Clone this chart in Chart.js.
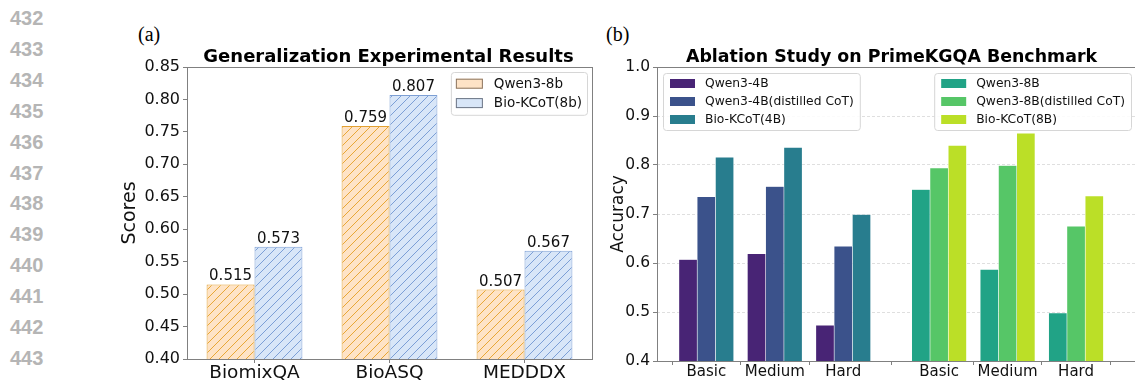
<!DOCTYPE html>
<html>
<head>
<meta charset="utf-8">
<script src="https://cdn.jsdelivr.net/npm/chart.js@4.4.1/dist/chart.umd.min.js"></script>
<style>
  html, body { margin: 0; padding: 0; background: #fff; }
  body { width: 1135px; height: 384px; position: relative; overflow: hidden; }
  .ln { position: absolute; left: 10px; font: bold 20px 'Liberation Sans', Arial, sans-serif; color: #b5b5b5; line-height: 20px; }
  .tag { position: absolute; font: 20px 'Liberation Serif', 'Times New Roman', serif; color: #000; line-height: 20px; }
  #chartA { position: absolute; left: 110px; top: 0; }
  #chartB { position: absolute; left: 600px; top: 0; }
</style>
</head>
<body>
<div id="lines"></div>
<div class="tag" style="left:138px; top:24px;">(a)</div>
<div class="tag" style="left:606px; top:24px;">(b)</div>
<canvas id="chartA" width="490" height="384"></canvas>
<canvas id="chartB" width="545" height="384"></canvas>
<script>
// ----- data: (a) generalization -----
const benchmarks = ['BiomixQA', 'BioASQ', 'MEDDDX'];
const qwen8bScores = [0.515, 0.759, 0.507];
const kcot8bScores = [0.573, 0.807, 0.567];

// ----- data: (b) ablation on PrimeKGQA -----
const levels = ['Basic', 'Medium', 'Hard'];
const qwen4b = [0.607, 0.619, 0.473];
const qwen4bDistilled = [0.735, 0.756, 0.634];
const kcot4b = [0.816, 0.836, 0.699];
const qwen8b = [0.750, 0.587, 0.498];
const qwen8bDistilled = [0.794, 0.799, 0.675];
const kcot8b = [0.840, 0.865, 0.737];

const lineNumbers = [432, 433, 434, 435, 436, 437, 438, 439, 440, 441, 442, 443];

// margin line numbers
const linesEl = document.getElementById('lines');
lineNumbers.forEach((n, i) => {
    const d = document.createElement('div');
    d.className = 'ln';
    d.style.top = (8 + i * 30.9) + 'px';
    d.textContent = n;
    linesEl.appendChild(d);
});

const FONT = "'DejaVu Sans', 'Liberation Sans', sans-serif";
const SPINE = '#808080';

function hatch(bg, line) {
    const s = 9;
    const c = document.createElement('canvas');
    c.width = s; c.height = s;
    const g = c.getContext('2d');
    g.fillStyle = bg;
    g.fillRect(0, 0, s, s);
    g.strokeStyle = line;
    g.lineWidth = 1;
    g.beginPath();
    g.moveTo(-1, s + 1); g.lineTo(s + 1, -1);
    g.moveTo(-2, 2); g.lineTo(2, -2);
    g.moveTo(s - 2, s + 2); g.lineTo(s + 2, s - 2);
    g.stroke();
    return g.createPattern(c, 'repeat');
}

// ----- small plugins -----
const frame = {
    id: 'frame',
    afterDatasetsDraw(chart) {
        const { ctx, chartArea: a } = chart;
        ctx.save();
        ctx.strokeStyle = SPINE;
        ctx.lineWidth = 1;
        ctx.strokeRect(Math.round(a.left) + 0.5, Math.round(a.top) + 0.5,
            Math.round(a.right - a.left), Math.round(a.bottom - a.top));
        ctx.restore();
    }
};

function titlePlugin(text, size, shift) {
    return {
        id: 'ttl',
        afterDraw(chart) {
            const { ctx, chartArea: a } = chart;
            ctx.save();
            ctx.font = `bold ${size}px ${FONT}`;
            ctx.fillStyle = '#000';
            ctx.textAlign = 'center';
            ctx.textBaseline = 'alphabetic';
            ctx.fillText(text, (a.left + a.right) / 2 + shift, 62);
            ctx.restore();
        }
    };
}

function drawLegend(chart, idx, o) {
    const { ctx, chartArea: a } = chart;
    const ds = chart.data.datasets;
    ctx.save();
    ctx.font = `${o.size}px ${FONT}`;
    const tw = Math.max(...idx.map(i => ctx.measureText(ds[i].label).width));
    const w = o.padL + o.patchW + o.gap + tw + o.padR;
    const h = o.rowH * idx.length + o.padV * 2;
    const x = o.side === 'right' ? a.right - o.inset - w : a.left + o.inset;
    const y = a.top + o.inset;
    ctx.beginPath();
    ctx.roundRect(x + 0.5, y + 0.5, w, h, 3);
    ctx.fillStyle = 'rgba(255,255,255,0.85)';
    ctx.fill();
    ctx.strokeStyle = '#d6d6d6';
    ctx.lineWidth = 1;
    ctx.stroke();
    idx.forEach((i, r) => {
        const cy = y + o.padV + o.rowH * (r + 0.5);
        ctx.fillStyle = ds[i].legendFill || ds[i].backgroundColor;
        ctx.fillRect(x + o.padL, cy - o.patchH / 2, o.patchW, o.patchH);
        if (ds[i].legendEdge) {
            ctx.strokeStyle = ds[i].legendEdge;
            ctx.strokeRect(x + o.padL + 0.5, cy - o.patchH / 2 + 0.5, o.patchW - 1, o.patchH - 1);
        }
        ctx.fillStyle = '#111';
        ctx.textAlign = 'left';
        ctx.textBaseline = 'middle';
        ctx.fillText(ds[i].label, x + o.padL + o.patchW + o.gap, cy + 0.5);
    });
    ctx.restore();
}

const valueLabels = {
    id: 'vals',
    afterDatasetsDraw(chart) {
        const { ctx } = chart;
        ctx.save();
        ctx.font = `15px ${FONT}`;
        ctx.fillStyle = '#111';
        ctx.textAlign = 'center';
        ctx.textBaseline = 'alphabetic';
        chart.data.datasets.forEach((d, di) => {
            chart.getDatasetMeta(di).data.forEach((bar, i) => {
                ctx.fillText(d.data[i].toFixed(3), bar.x, bar.y - 4);
            });
        });
        ctx.restore();
    }
};

// ===== Chart (a) =====
new Chart(document.getElementById('chartA'), {
    type: 'bar',
    data: {
        labels: benchmarks,
        datasets: [
            {
                label: 'Qwen3-8b',
                data: qwen8bScores,
                backgroundColor: hatch('#fee3c6', '#e8a736'),
                borderColor: '#e2a133',
                legendFill: '#fee3c6',
                legendEdge: '#8a7560',
            },
            {
                label: 'Bio-KCoT(8b)',
                data: kcot8bScores,
                backgroundColor: hatch('#d8e6f8', '#7c9fd6'),
                borderColor: '#7d9fd4',
                legendFill: '#d8e6f8',
                legendEdge: '#6c7585',
            }
        ]
    },
    options: {
        responsive: false,
        animation: false,
        layout: { padding: { left: 0, right: 8, top: 67, bottom: 0 } },
        datasets: { bar: { categoryPercentage: 0.71, barPercentage: 1, borderWidth: 1, borderSkipped: false } },
        plugins: { legend: { display: false }, tooltip: { enabled: false } },
        scales: {
            x: {
                grid: { drawOnChartArea: false, offset: false, tickLength: 4, tickColor: SPINE },
                border: { display: false },
                ticks: { color: '#111', font: { family: FONT, size: 18.5, lineHeight: 1 }, padding: 1, maxRotation: 0 },
                afterFit: s => { s.height = 25; }
            },
            y: {
                min: 0.40,
                max: 0.85,
                grid: { drawOnChartArea: false, tickLength: 4, tickColor: SPINE },
                border: { display: false },
                ticks: { stepSize: 0.05, color: '#111', font: { family: FONT, size: 16 }, padding: 3,
                    callback: v => v.toFixed(2) },
                title: { display: true, text: 'Scores', color: '#111', font: { family: FONT, size: 19 }, padding: { top: 9, bottom: 0 } },
                afterFit: s => { s.width = 77; }
            }
        }
    },
    plugins: [frame, valueLabels, titlePlugin('Generalization Experimental Results', 18, -1), {
        id: 'legA',
        afterDraw: chart => drawLegend(chart, [0, 1], { side: 'right', inset: 5, size: 13.5, rowH: 19.4, padV: 2, padL: 5, padR: 5, patchW: 27, patchH: 10, gap: 11 })
    }]
});

// ===== Chart (b) =====
const groupPos4 = [0, 1, 2];
const groupPos8 = [3.4, 4.4, 5.4];
const barW = 0.8 / 3;

const seriesB = [
    { label: 'Qwen3-4B', values: qwen4b, pos: groupPos4, slot: 0, color: '#482475' },
    { label: 'Qwen3-4B(distilled CoT)', values: qwen4bDistilled, pos: groupPos4, slot: 1, color: '#3b528b' },
    { label: 'Bio-KCoT(4B)', values: kcot4b, pos: groupPos4, slot: 2, color: '#287d8e' },
    { label: 'Qwen3-8B', values: qwen8b, pos: groupPos8, slot: 0, color: '#21a386' },
    { label: 'Qwen3-8B(distilled CoT)', values: qwen8bDistilled, pos: groupPos8, slot: 1, color: '#56c667' },
    { label: 'Bio-KCoT(8B)', values: kcot8b, pos: groupPos8, slot: 2, color: '#bbdf27' }
];
const tickPos = [...groupPos4, ...groupPos8];
const tickLabels = [...levels, ...levels];

new Chart(document.getElementById('chartB'), {
    type: 'bar',
    data: {
        datasets: seriesB.map(s => ({
            label: s.label,
            data: s.values.map((v, i) => ({ x: s.pos[i] + (s.slot - 1) * barW, y: v })),
            backgroundColor: s.color,
            borderColor: 'rgba(255,255,255,0.55)',
            borderWidth: 0.6,
            borderSkipped: false,
            grouped: false,
            categoryPercentage: 1,
            barPercentage: 1
        }))
    },
    options: {
        responsive: false,
        animation: false,
        layout: { padding: { left: 0, right: 8, top: 67, bottom: 0 } },
        plugins: { legend: { display: false }, tooltip: { enabled: false } },
        scales: {
            x: {
                type: 'linear',
                offset: false,
                min: -0.72,
                max: 6.29,
                grid: { drawOnChartArea: false, tickLength: 4, tickColor: SPINE },
                border: { display: false },
                afterBuildTicks: s => { s.ticks = tickPos.map(v => ({ value: v })); },
                ticks: { autoSkip: false, maxRotation: 0, color: '#111', font: { family: FONT, size: 15, lineHeight: 1 }, padding: 0,
                    callback: (v, i) => tickLabels[i] },
                afterFit: s => { s.height = 23; }
            },
            y: {
                min: 0.4,
                max: 1.0,
                grid: { color: 'rgba(0,0,0,0.16)', lineWidth: 0.8, tickLength: 4, tickColor: SPINE, tickBorderDash: [], tickWidth: 1 },
                border: { display: false, dash: [3, 2] },
                ticks: { stepSize: 0.1, color: '#111', font: { family: FONT, size: 15.5 }, padding: 3,
                    callback: v => v.toFixed(1) },
                title: { display: true, text: 'Accuracy', color: '#111', font: { family: FONT, size: 17 }, padding: { top: 8, bottom: 0 } },
                afterFit: s => { s.width = 57; }
            }
        }
    },
    plugins: [frame, titlePlugin('Ablation Study on PrimeKGQA Benchmark', 17.4, -5.5), {
        id: 'legB',
        afterDraw: chart => {
            const o = { inset: 6, size: 12.3, rowH: 18, padV: 1.5, padL: 7, padR: 6, patchW: 25, patchH: 9, gap: 10 };
            drawLegend(chart, [0, 1, 2], Object.assign({ side: 'left' }, o));
            drawLegend(chart, [3, 4, 5], Object.assign({ side: 'right' }, o));
        }
    }]
});
</script>
</body>
</html>
